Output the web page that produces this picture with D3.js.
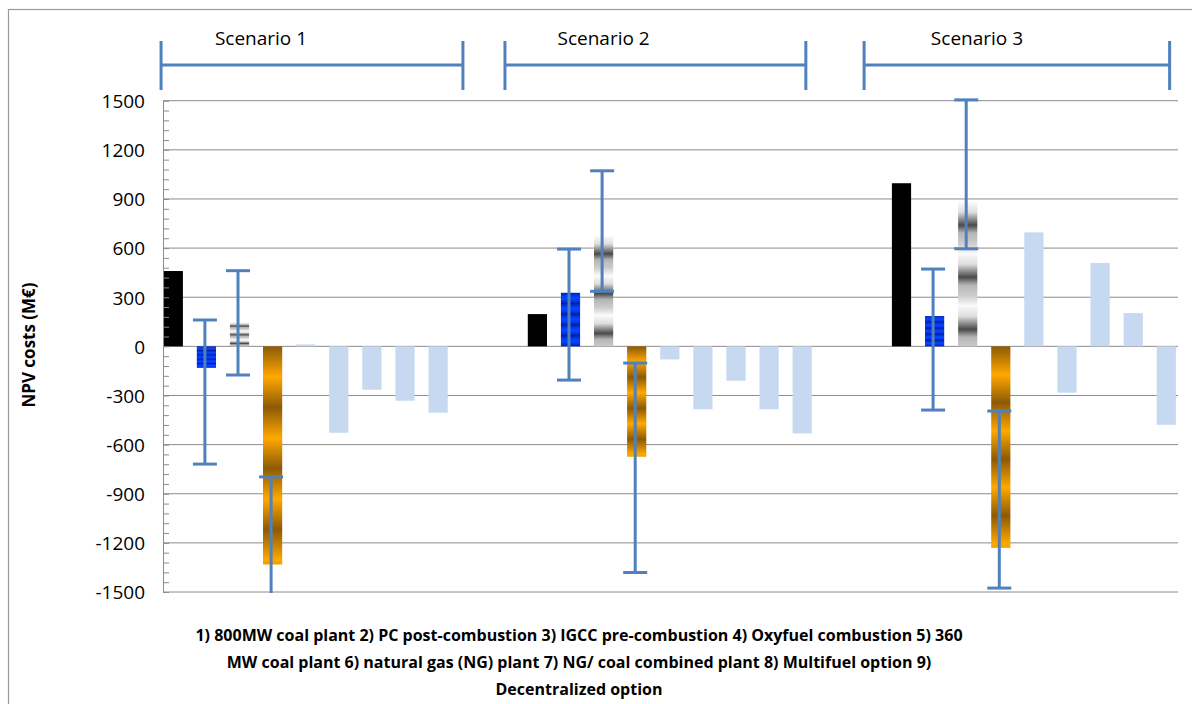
<!DOCTYPE html>
<html>
<head>
  <meta charset="utf-8">
  <title>NPV costs</title>
  <style>
    body { margin: 0; background: #fff; }
    text { font-family: "Open Sans", "Noto Sans", sans-serif; fill: #000; }
  </style>
</head>
<body>
  <script src="https://cdn.jsdelivr.net/npm/d3@7"></script>
  <script>
    // data (M€)
    var scenarios = ["Scenario 1", "Scenario 2", "Scenario 3"];
    var options = ["1", "2", "3", "4", "5", "6", "7", "8", "9"];
    var npv1 = [460, -131, 147, -1332, 12, -528, -265, -332, -405];
    var npv2 = [197, 327, 674, -674, -80, -385, -210, -385, -532];
    var npv3 = [996, 185, 883, -1230, 696, -283, 509, 203, -479];
    // error bars only on options 2, 3 and 4
    var errLow1 = [null, -719, -175, -1600, null, null, null, null, null];
    var errHigh1 = [null, 161, 462, -797, null, null, null, null, null];
    var errLow2 = [null, -206, 336, -1381, null, null, null, null, null];
    var errHigh2 = [null, 594, 1072, -102, null, null, null, null, null];
    var errLow3 = [null, -389, 596, -1476, null, null, null, null, null];
    var errHigh3 = [null, 472, 1505, -395, null, null, null, null, null];
    var yTicks = [-1500, -1200, -900, -600, -300, 0, 300, 600, 900, 1200, 1500];
    // scenario brackets, in category units (slot index)
    var bracketFrom = [-0.37, 10.02, 20.87];
    var bracketTo = [8.75, 19.11, 30.1];
    var bracketLabelAt = [2.65, 13.0, 24.28];
    var yTitle = "NPV costs (M€)";
    var caption = [
      "1) 800MW coal plant 2) PC post-combustion 3) IGCC pre-combustion 4) Oxyfuel combustion 5) 360",
      "MW coal plant 6) natural gas (NG) plant 7) NG/ coal combined plant 8) Multifuel option 9)",
      "Decentralized option"
    ];

    var npv = [npv1, npv2, npv3];
    var errLow = [errLow1, errLow2, errLow3];
    var errHigh = [errHigh1, errHigh2, errHigh3];
    var gapSlots = 2; // empty categories between scenarios
    var nSlots = scenarios.length * options.length + (scenarios.length - 1) * gapSlots;

    var rows = [];
    scenarios.forEach(function (s, si) {
      options.forEach(function (o, oi) {
        rows.push({
          slot: si * (options.length + gapSlots) + oi,
          option: o,
          value: npv[si][oi],
          lo: errLow[si][oi],
          hi: errHigh[si][oi]
        });
      });
    });

    var width = 1192, height = 704;
    var plotLeft = 163, plotRight = 1178;

    var svg = d3.select("body").append("svg")
      .attr("width", width)
      .attr("height", height);

    // chart frame
    svg.append("rect")
      .attr("x", 8.5).attr("y", 9.5)
      .attr("width", 1300).attr("height", 900)
      .attr("fill", "none")
      .attr("stroke", "#9a9a9a")
      .attr("stroke-width", 1.2);

    var y = d3.scaleLinear().domain([-1500, 1500]).range([592, 100.7]);
    var x = d3.scaleBand()
      .domain(d3.range(nSlots))
      .range([156.75, 1182.85])
      .paddingInner(0.42)
      .paddingOuter(0.21);
    var xc = d3.scaleLinear()
      .domain([0, nSlots - 1])
      .range([x(0) + x.bandwidth() / 2, x(nSlots - 1) + x.bandwidth() / 2]);

    // gradient fills
    var defs = svg.append("defs");
    function stripes(id, period, stops) {
      var g = defs.append("linearGradient")
        .attr("id", id)
        .attr("x1", 0).attr("y1", 0).attr("x2", 0).attr("y2", period)
        .attr("spreadMethod", "repeat");
      stops.forEach(function (s) {
        g.append("stop").attr("offset", s[0]).attr("stop-color", s[1]);
      });
    }
    stripes("blueFill", 0.2, [[0, "#001f9e"], [0.25, "#0038f0"], [0.5, "#0a44ff"], [0.75, "#0038f0"], [1, "#001f9e"]]);
    stripes("grayFill", 0.36, [[0, "#fafafa"], [0.2, "#dedede"], [0.45, "#4a4a4a"], [0.6, "#b5b5b5"], [0.8, "#cccccc"], [1, "#fafafa"]]);
    stripes("orangeFill", 0.28, [[0, "#8c5a06"], [0.5, "#ffa800"], [1, "#8c5a06"]]);

    var fill = d3.scaleOrdinal()
      .domain(options)
      .range(["#000000", "url(#blueFill)", "url(#grayFill)", "url(#orangeFill)",
        "#c6d9f1", "#c6d9f1", "#c6d9f1", "#c6d9f1", "#c6d9f1"]);

    defs.append("clipPath").attr("id", "plotClip")
      .append("rect")
      .attr("x", plotLeft - 10).attr("y", 94)
      .attr("width", plotRight - plotLeft + 20).attr("height", 499);

    // gridlines
    svg.append("g").selectAll("line")
      .data(yTicks)
      .enter().append("line")
      .attr("x1", plotLeft).attr("x2", plotRight)
      .attr("y1", function (d) { return y(d); })
      .attr("y2", function (d) { return y(d); })
      .attr("stroke", "#8c8c8c")
      .attr("stroke-width", 1);

    var plot = svg.append("g").attr("clip-path", "url(#plotClip)");

    // bars
    plot.selectAll("rect.bar")
      .data(rows)
      .enter().append("rect")
      .attr("class", "bar")
      .attr("x", function (d) { return x(d.slot); })
      .attr("width", x.bandwidth())
      .attr("y", function (d) { return y(Math.max(0, d.value)); })
      .attr("height", function (d) { return Math.abs(y(d.value) - y(0)); })
      .attr("fill", function (d) { return fill(d.option); });

    // error bars
    var errs = rows.filter(function (d) { return d.lo !== null; });
    var capW = 24;
    var eg = plot.selectAll("g.err")
      .data(errs)
      .enter().append("g")
      .attr("class", "err")
      .attr("stroke", "#4f81bd")
      .attr("stroke-width", 3);
    eg.append("line")
      .attr("x1", function (d) { return xc(d.slot) - 1.5; })
      .attr("x2", function (d) { return xc(d.slot) - 1.5; })
      .attr("y1", function (d) { return y(d.lo); })
      .attr("y2", function (d) { return y(d.hi); });
    eg.append("line")
      .attr("x1", function (d) { return xc(d.slot) - 1.5 - capW / 2; })
      .attr("x2", function (d) { return xc(d.slot) - 1.5 + capW / 2; })
      .attr("y1", function (d) { return y(d.lo); })
      .attr("y2", function (d) { return y(d.lo); });
    eg.append("line")
      .attr("x1", function (d) { return xc(d.slot) - 1.5 - capW / 2; })
      .attr("x2", function (d) { return xc(d.slot) - 1.5 + capW / 2; })
      .attr("y1", function (d) { return y(d.hi); })
      .attr("y2", function (d) { return y(d.hi); });

    // y axis: line with inside minor/major ticks
    var axis = svg.append("g")
      .attr("transform", "translate(" + plotLeft + ",0)")
      .call(d3.axisRight(y).tickValues(d3.range(-1500, 1501, 60)).tickSize(6).tickSizeOuter(0).tickFormat(""));
    axis.selectAll("path, line").attr("stroke", "#8c8c8c");

    var labels = svg.append("g")
      .attr("transform", "translate(" + plotLeft + ",0)")
      .call(d3.axisLeft(y).tickValues(yTicks).tickSize(0).tickPadding(18)
        .tickFormat(function (d) { return String(d); }));
    labels.select(".domain").remove();
    labels.selectAll("text")
      .attr("font-family", "'Open Sans', sans-serif")
      .attr("font-size", 19)
      .attr("fill", "#000")
      .attr("dy", "0.36em");

    // y title
    svg.append("text")
      .attr("transform", "translate(35,345) rotate(-90)")
      .attr("text-anchor", "middle")
      .attr("font-size", 17)
      .attr("font-weight", "bold")
      .text(yTitle);

    // scenario brackets
    var br = svg.append("g").attr("stroke", "#4f81bd").attr("stroke-width", 3);
    scenarios.forEach(function (s, i) {
      var a = xc(bracketFrom[i]), b = xc(bracketTo[i]);
      br.append("line").attr("x1", a).attr("x2", b).attr("y1", 65).attr("y2", 65);
      br.append("line").attr("x1", a).attr("x2", a).attr("y1", 41).attr("y2", 90);
      br.append("line").attr("x1", b).attr("x2", b).attr("y1", 41).attr("y2", 90);
      svg.append("text")
        .attr("x", xc(bracketLabelAt[i]))
        .attr("y", 45)
        .attr("text-anchor", "middle")
        .attr("font-size", 19)
        .text(s);
    });

    // caption under the chart
    svg.append("g").selectAll("text")
      .data(caption)
      .enter().append("text")
      .attr("x", 579)
      .attr("y", function (d, i) { return 641 + i * 27; })
      .attr("text-anchor", "middle")
      .attr("font-size", 16)
      .attr("font-weight", "bold")
      .text(function (d) { return d; });
  </script>
</body>
</html>
